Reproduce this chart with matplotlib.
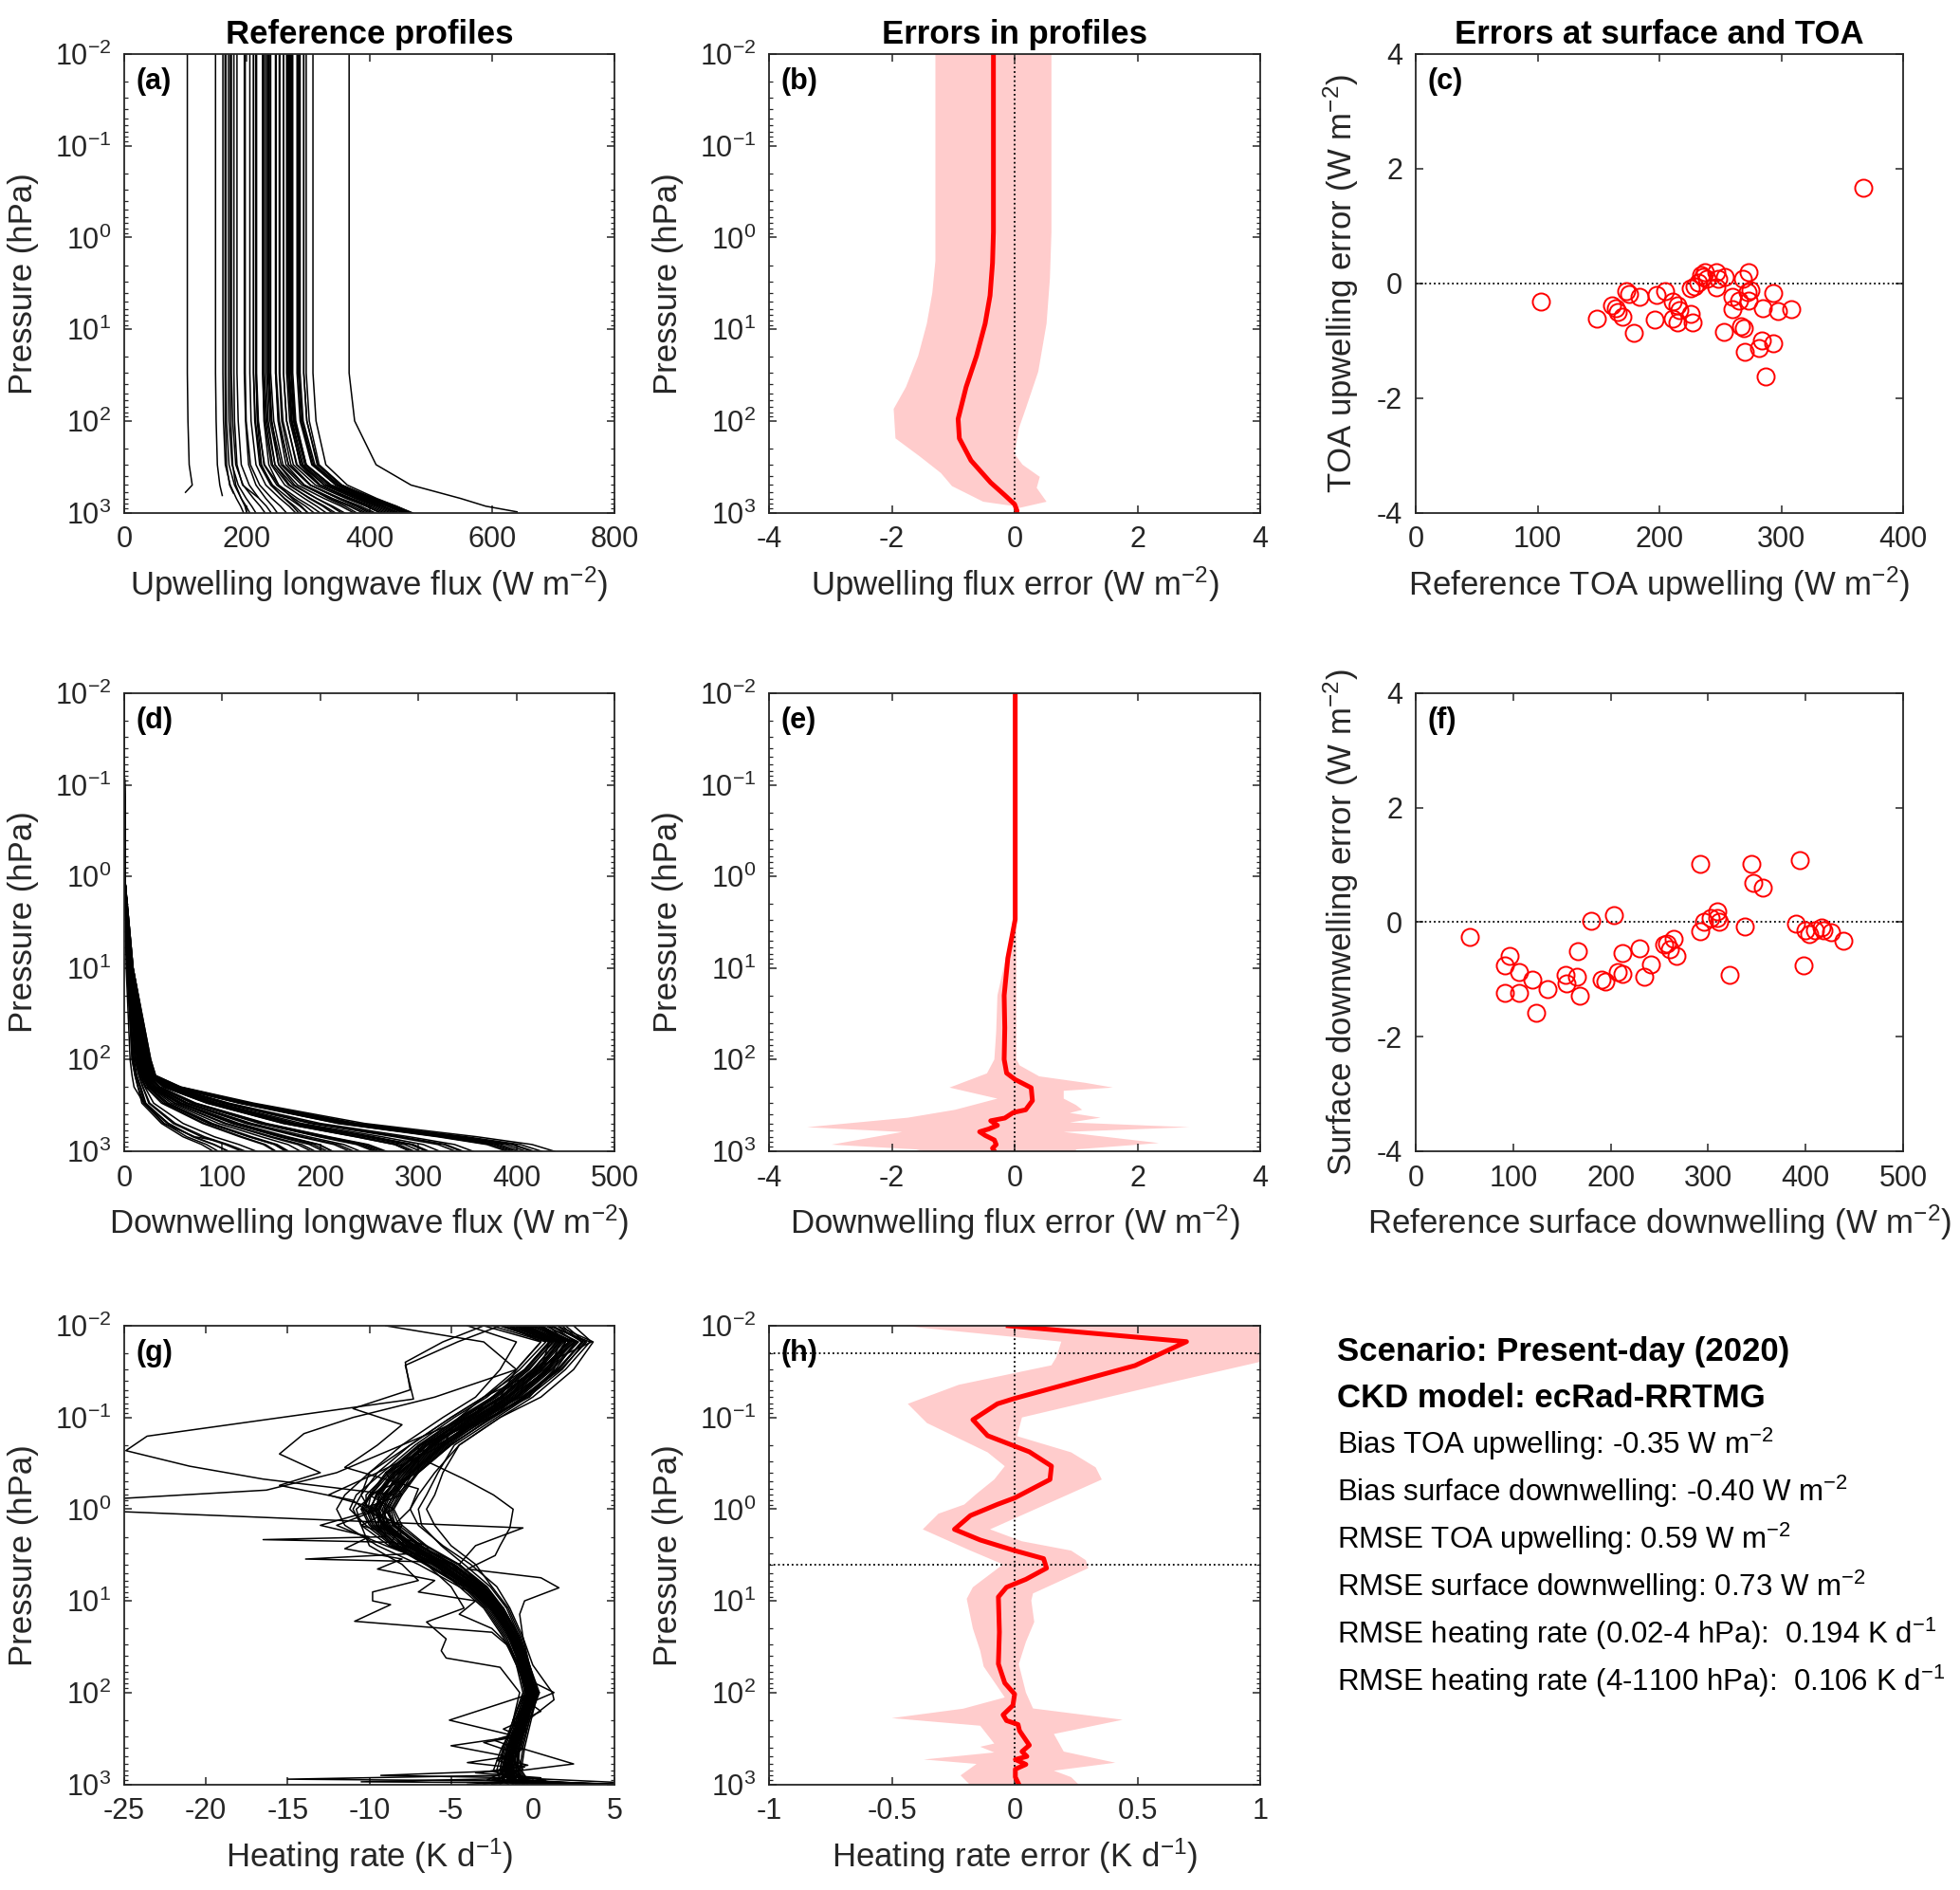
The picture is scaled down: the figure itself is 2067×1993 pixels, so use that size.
import matplotlib
matplotlib.use('Agg')
import matplotlib.pyplot as plt
import numpy as np
from matplotlib.ticker import LogLocator, NullFormatter, FixedLocator

plt.rcParams['font.family'] = ['Liberation Sans', 'DejaVu Sans']
plt.rcParams['mathtext.fontset'] = 'custom'
plt.rcParams['mathtext.rm'] = 'Liberation Sans'
plt.rcParams['mathtext.it'] = 'Liberation Sans:italic'
plt.rcParams['mathtext.bf'] = 'Liberation Sans:bold'
plt.rcParams['axes.unicode_minus'] = False

# ---------------- data: panel (c) TOA errors ----------------
toa_ref = [103, 149, 161, 164.5, 166, 170, 173, 175, 179, 184, 196, 197.5, 205, 211, 211, 215, 216, 215,
           226, 227, 226, 229, 232, 234, 235.5, 237, 239, 247, 248, 247, 254, 253, 260, 260, 265, 267, 269,
           268.5, 273, 272, 273, 275, 270, 282, 284, 285, 287, 293, 293, 297, 308, 367]
toa_err = [-0.31, -0.62, -0.39, -0.44, -0.50, -0.59, -0.14, -0.19, -0.87, -0.24, -0.63, -0.21, -0.14, -0.31,
           -0.61, -0.39, -0.47, -0.68, -0.54, -0.68, -0.09, -0.06, 0.01, 0.15, 0.12, 0.19, 0.08, 0.20, 0.08,
           -0.07, 0.12, -0.84, -0.24, -0.45, -0.30, -0.75, -0.78, 0.08, 0.19, -0.16, -0.30, -0.12, -1.19,
           -1.12, -1.00, -0.43, -1.62, -1.04, -0.17, -0.48, -0.45, 1.67]

# ---------------- data: panel (f) surface errors ----------------
sfc_ref = [55.7, 91, 96, 91, 106.5, 106.5, 120, 124, 135, 154, 155, 165, 166, 168, 180, 191, 195, 203.5,
           207.5, 212.5, 212.5, 230, 234.5, 241, 255, 258, 265, 261, 267.5, 292, 292, 296, 302.5, 309, 309,
           311, 322, 338, 344, 346, 356, 393.5, 390.5, 397.5, 399.5, 404, 410, 416, 418, 426, 439]
sfc_err = [-0.26, -0.76, -0.59, -1.24, -0.88, -1.24, -1.00, -1.59, -1.17, -0.93, -1.07, -0.96, -0.50, -1.28,
           0.03, -1.00, -1.04, 0.12, -0.88, -0.54, -0.91, -0.46, -0.95, -0.74, -0.40, -0.38, -0.30, -0.48,
           -0.59, 1.02, -0.16, 0.00, 0.07, 0.19, 0.08, 0.00, -0.93, -0.08, 1.02, 0.68, 0.61, 1.09, -0.03,
           -0.76, -0.15, -0.21, -0.15, -0.09, -0.15, -0.17, -0.32]

# ---------------- data: panel (a) upwelling profiles ----------------
up_psfc = [600, 650, 1010, 610, 1010, 1010, 1010, 1010, 680, 1010] + [1010] * 41 + [980]
up_100 = [104, 150, 162, 165, 167, 171, 174, 177, 180, 186, 198, 199, 207, 213, 214, 217, 219, 218, 229, 231,
          228, 233, 235, 238, 240, 241, 244, 251, 253, 252, 259, 257, 265, 265, 270, 272, 274, 273, 278, 277,
          279, 280, 276, 287, 289, 290, 292, 298, 298, 302, 313, 376]
up_300 = [106, 152, 165, 167, 171, 176, 177, 182, 184, 191, 203, 206, 215, 221, 223, 224, 228, 229, 240, 242,
          236, 246, 246, 252, 256, 252, 259, 264, 268, 268, 276, 272, 281, 282, 288, 287, 292, 290, 296, 296,
          297, 297, 295, 306, 307, 309, 311, 315, 316, 318, 329, 411]
up_500 = [111, 156, 173, 172, 180, 186, 182, 194, 193, 204, 215, 221, 231, 239, 242, 240, 249, 252, 262, 268,
          252, 275, 270, 283, 290, 278, 294, 294, 303, 304, 312, 304, 318, 320, 326, 320, 331, 327, 335, 336,
          338, 335, 337, 346, 345, 349, 351, 354, 355, 355, 364, 468]
up_700 = [None, None, 183, None, 191, 199, 191, 211, None, 220, 231, 241, 254, 262, 269, 261, 277, 283, 294, 304,
          274, 314, 302, 326, 336, 314, 340, 333, 350, 353, 362, 349, 367, 371, 379, 365, 383, 377, 388, 391,
          395, 386, 395, 401, 397, 404, 406, 405, 409, 404, 412, 549]
up_850 = [None, None, 190, None, 199, 208, 197, 222, None, 232, 242, 255, 269, 278, 287, 275, 296, 304, 314, 327,
          289, 340, 324, 354, 367, 337, 372, 360, 381, 386, 395, 378, 400, 405, 414, 395, 419, 410, 423, 428,
          432, 420, 433, 438, 432, 441, 443, 440, 444, 437, 444, 590]
up_sfc = [100, 160, 195, 178, 205, 215, 200, 230, 218, 240, 250, 265, 280, 290, 300, 285, 310, 320, 330, 345,
          300, 360, 340, 375, 390, 355, 395, 380, 405, 410, 420, 400, 425, 430, 440, 418, 445, 435, 450, 455,
          460, 445, 462, 465, 458, 468, 470, 466, 471, 462, 468, 641]

# ---------------- data: panel (d) downwelling profiles ----------------
dn_psfc = [580, 760] + [1010] * 49
dn_top = 0.0
dn_1hpa = 0.5
dn_10 = [2, 3, 3, 3, 3, 3, 4, 4, 4, 4, 4, 5, 5, 5, 5, 5, 5, 5, 5, 6, 6, 6, 6, 6, 6, 6, 7, 7, 7, 7,
         7, 7, 7, 7, 7, 7, 8, 8, 8, 8, 8, 8, 8, 8, 8, 8, 8, 9, 9, 9, 9]
dn_100 = [6, 8, 9, 8, 10, 9, 11, 11, 12, 13, 13, 14, 14, 14, 15, 15, 16, 16, 16, 17, 17, 18, 18, 18, 19, 19,
          19, 19, 20, 21, 21, 21, 22, 22, 22, 22, 23, 23, 24, 24, 24, 25, 25, 25, 25, 26, 26, 26, 26, 27, 27]
dn_150 = [8, 11, 12, 11, 13, 12, 15, 15, 16, 17, 17, 18, 18, 19, 19, 20, 20, 21, 21, 21, 22, 22, 23, 23, 24,
          24, 25, 24, 25, 26, 26, 26, 27, 27, 27, 27, 28, 28, 29, 29, 29, 30, 30, 30, 30, 31, 31, 31, 31, 32, 32]
dn_200 = [10, 14, 16, 14, 17, 16, 19, 19, 21, 22, 22, 24, 24, 25, 26, 27, 27, 28, 28, 29, 30, 31, 32, 33, 35,
          35, 36, 35, 37, 40, 40, 41, 42, 43, 43, 44, 45, 46, 47, 48, 49, 50, 50, 51, 52, 53, 54, 55, 56, 57, 58]
dn_300 = [20, 20, 21, 18, 22, 21, 25, 26, 30, 38, 40, 44, 42, 45, 48, 51, 52, 55, 56, 57, 59, 62, 64, 65, 69,
          70, 72, 70, 73, 85, 84, 86, 89, 91, 92, 93, 96, 100, 103, 104, 107, 118, 117, 119, 120, 121, 123,
          125, 126, 128, 132]
dn_500 = [45, 40, 41, 38, 45, 44, 50, 52, 60, 80, 82, 88, 86, 90, 96, 102, 104, 110, 112, 114, 117, 124, 127,
          130, 138, 140, 143, 141, 145, 163, 162, 165, 169, 173, 174, 175, 181, 190, 193, 194, 200, 219, 218,
          222, 223, 226, 229, 232, 234, 238, 245]
dn_700 = [None, 72, 64, 60, 71, 70, 79, 82, 92, 118, 120, 128, 127, 130, 140, 148, 151, 158, 161, 165, 167,
          179, 182, 188, 199, 201, 207, 204, 209, 237, 236, 240, 246, 251, 252, 254, 263, 276, 281, 283, 291,
          323, 320, 326, 328, 331, 336, 341, 343, 349, 360]
dn_850 = [None, None, 84, 79, 92, 91, 103, 106, 117, 142, 144, 153, 154, 156, 167, 177, 181, 189, 193, 198,
          199, 214, 218, 224, 237, 240, 246, 243, 249, 276, 276, 280, 286, 292, 293, 295, 305, 320, 326, 328,
          337, 373, 370, 377, 379, 383, 389, 395, 397, 404, 416]

# ---------------- data: panel (b) upwelling flux error ----------------
upe_p = [0.01, 0.87, 1.9, 4.3, 8.7, 19.5, 42.7, 95, 155, 270, 470, 645, 810, 955, 1000]
upe_mean = [-0.345, -0.345, -0.36, -0.40, -0.48, -0.62, -0.79, -0.92, -0.90, -0.71, -0.39, -0.16, 0.0, 0.04, 0.03]
upe_lo_p = [0.01, 1.8, 4.0, 8.7, 19.5, 42.7, 74, 155, 245, 370, 513, 760, 850]
upe_lo = [-1.29, -1.29, -1.34, -1.43, -1.57, -1.77, -1.97, -1.94, -1.54, -1.20, -1.02, -0.51, 0.0]
upe_hi_p = [0.01, 0.87, 2.8, 8.7, 29, 74, 120, 229, 300, 407, 537, 760, 890]
upe_hi = [0.60, 0.60, 0.575, 0.52, 0.385, 0.18, 0.07, 0.0, 0.13, 0.41, 0.36, 0.52, 0.07]

# ---------------- data: panel (e) downwelling flux error ----------------
dne_p = [0.01, 0.83, 2.95, 4.8, 7.8, 20, 45, 100, 141, 166, 204, 282, 355, 380, 437, 468, 525, 575, 617,
         676, 759, 851, 933, 1000]
dne_mean = [0.01, 0.01, 0.01, -0.05, -0.11, -0.17, -0.16, -0.17, -0.13, 0.01, 0.27, 0.29, 0.18, -0.02, -0.16,
            -0.39, -0.28, -0.42, -0.57, -0.48, -0.33, -0.30, -0.36, -0.33]
dne_lo_p = [0.01, 3, 5, 20, 50, 100, 142, 203, 268, 355, 433, 550, 620, 853, 962, 1000]
dne_lo = [-0.03, -0.03, -0.08, -0.28, -0.30, -0.33, -0.45, -1.06, -0.28, -0.97, -1.74, -3.38, -1.83, -2.98,
          -1.60, -1.50]
dne_hi_p = [0.01, 100, 116, 153, 180, 203, 220, 268, 315, 355, 384, 433, 488, 550, 620, 819, 962, 1000]
dne_hi = [0.03, 0.03, 0.08, 0.40, 1.15, 1.60, 0.80, 0.80, 1.00, 1.10, 0.90, 1.40, 0.90, 2.85, 0.80, 2.35,
          1.00, 1.00]

# ---------------- data: panel (h) heating-rate error ----------------
hre_p = [0.01, 0.0149, 0.0272, 0.062, 0.071, 0.106, 0.158, 0.237, 0.339, 0.475, 0.755, 0.887, 1.175, 1.66,
         2.17, 2.83, 3.46, 4.4, 5.82, 7.1, 9.06, 21.9, 48.7, 78.7, 104, 138, 175, 202, 223, 261, 375, 440,
         497, 537, 607, 684, 836, 1000]
hre_mean = [-0.026, 0.70, 0.49, 0.0, -0.07, -0.17, -0.11, 0.06, 0.15, 0.144, 0.0, -0.07, -0.18, -0.245,
            -0.14, 0.0, 0.118, 0.13, 0.046, -0.033, -0.066, -0.062, -0.066, -0.04, 0.0, -0.007, -0.047,
            -0.033, 0.014, 0.02, 0.06, 0.03, 0.05, 0.003, 0.046, 0.003, 0.003, 0.017]
hre_lo_p = [0.01, 0.0149, 0.022, 0.027, 0.044, 0.071, 0.115, 0.24, 0.34, 0.475, 0.68, 0.89, 1.12, 1.66, 2.8,
            4.0, 7.1, 9.5, 20, 35, 52, 86, 113, 150, 190, 230, 360, 390, 450, 537, 600, 800, 1000]
hre_lo = [-0.46, 0.19, 0.17, 0.15, -0.227, -0.435, -0.357, -0.11, -0.04, -0.083, -0.155, -0.205, -0.31,
          -0.374, -0.184, -0.047, -0.17, -0.195, -0.17, -0.14, -0.126, -0.07, -0.04, -0.21, -0.5, -0.14,
          -0.083, -0.14, -0.083, -0.37, -0.155, -0.22, -0.184]
hre_hi_p = [0.01, 0.0149, 0.02, 0.043, 0.10, 0.16, 0.24, 0.35, 0.475, 1.66, 2.24, 2.83, 3.6, 4.4, 8.3, 9.9,
            17, 28, 49, 100, 149, 198, 283, 440, 582, 711, 836, 1000]
hre_hi = [1.05, 1.3, 1.15, 0.61, 0.03, 0.01, 0.23, 0.33, 0.355, -0.1, 0.03, 0.23, 0.29, 0.3, 0.075, 0.068,
          0.08, 0.046, 0.017, 0.046, 0.075, 0.44, 0.16, 0.2, 0.41, 0.16, 0.23, 0.26]

# ---------------- data: panel (g) heating-rate profiles ----------------
hr_p = [0.01, 0.015, 0.03, 0.06, 0.1, 0.2, 0.4, 0.7, 1, 1.5, 2.5, 4, 7, 12, 25, 50, 100, 200, 400, 700, 900, 1000]
hr_01 = [0.5, 2.5, 1.0, -1.0, -3.0, -5.5, -7.5, -8.5, -9.0, -8.5, -7.0, -5.0, -3.2, -2.0, -1.0, -0.4, 0.0, -0.5, -1.0, -1.2, -1.0, 1.0]
hr_02 = [-1.0, 1.5, 0.0, -2.0, -4.0, -6.5, -8.5, -9.5, -10.0, -9.5, -8.0, -6.0, -3.8, -2.5, -1.4, -0.7, -0.3, -0.8, -1.4, -1.6, -1.5, -0.5]
hr_03 = [1.5, 3.0, 1.5, -0.5, -2.5, -5.0, -7.0, -8.0, -8.5, -8.0, -6.5, -4.5, -2.8, -1.8, -0.9, -0.3, 0.2, -0.3, -0.8, -1.0, -0.6, 2.0]
hr_04 = [-2.0, 1.0, -0.5, -2.5, -4.5, -7.0, -9.0, -10.0, -10.5, -10.0, -8.5, -6.5, -4.2, -2.8, -1.6, -0.9, -0.5, -1.0, -1.6, -1.9, -1.8, -1.0]
hr_05 = [0.0, 2.0, 0.8, -1.2, -3.2, -5.8, -7.8, -9.2, -9.6, -9.2, -7.6, -5.4, -3.4, -2.2, -1.1, -0.5, -0.1, -0.6, -1.2, -1.3, -1.1, 0.5]
hr_06 = [1.0, 3.5, 2.0, 0.0, -2.0, -4.5, -5.5, -6.0, -6.5, -6.0, -5.0, -3.5, -2.5, -1.5, -0.7, -0.2, 0.4, -0.2, -0.6, -0.8, -0.4, 3.0]
hr_07 = [-0.5, 1.8, 0.3, -1.8, -3.8, -6.2, -8.2, -9.8, -10.8, -10.5, -8.8, -6.2, -4.0, -2.6, -1.3, -0.6, -0.2, -0.7, -1.3, -1.5, -1.6, -2.0]
hr_08 = [-3.0, 0.5, -1.0, -3.0, -5.0, -7.5, -10.0, -11.5, -12.0, -11.5, -9.5, -7.0, -4.5, -3.0, -1.8, -1.0, -0.6, -1.2, -1.8, -2.2, -2.0, -1.5]
hr_09 = [0.8, 2.8, 1.2, -0.8, -2.8, -5.2, -7.2, -8.8, -9.2, -8.8, -7.2, -5.2, -3.3, -2.1, -1.0, -0.4, 0.1, -0.4, -1.0, -1.1, -0.8, 1.5]
hr_10 = [-1.5, 1.2, -0.2, -2.2, -4.2, -6.8, -8.8, -10.2, -10.2, -9.8, -8.2, -5.8, -3.7, -2.4, -1.3, -0.7, -0.3, -0.9, -1.5, -1.7, -1.4, 0.0]
hr_11 = [2.0, 3.2, 1.8, -0.3, -2.2, -4.8, -5.8, -6.5, -7.0, -6.8, -5.6, -4.2, -2.6, -1.6, -0.8, -0.2, 0.3, -0.1, -0.5, -0.7, -0.3, 4.0]
hr_12 = [-0.8, 1.6, 0.2, -1.6, -3.6, -6.0, -8.0, -9.0, -9.4, -9.0, -7.4, -5.6, -3.6, -2.3, -1.2, -0.6, -0.2, -0.6, -1.1, -1.3, -1.2, -0.5]
hr_13 = [0.3, 2.2, 0.6, -1.4, -3.4, -5.6, -7.6, -8.6, -9.8, -9.6, -8.2, -6.0, -3.9, -2.5, -1.3, -0.6, -0.1, -0.5, -1.3, -1.5, -1.3, 0.8]
hr_14 = [-2.5, 0.8, -0.8, -2.8, -4.8, -7.2, -9.2, -10.8, -11.2, -10.2, -8.6, -6.6, -4.3, -2.9, -1.7, -0.9, -0.4, -1.1, -1.7, -2.0, -1.7, -1.2]
hr_15 = [1.2, 2.6, 1.4, -0.6, -2.6, -5.4, -7.4, -8.4, -8.8, -8.6, -7.0, -4.8, -3.0, -1.9, -0.9, -0.3, 0.1, -0.3, -0.9, -1.0, -0.7, 2.5]
hr_16 = [-1.2, 1.4, 0.1, -1.9, -3.9, -6.4, -8.4, -9.4, -9.6, -9.4, -7.8, -5.8, -3.8, -2.5, -1.4, -0.8, -0.4, -0.8, -1.4, -1.6, -1.4, -0.3]
hr_17 = [0.2, 2.4, 0.9, -1.1, -3.1, -5.7, -7.7, -8.7, -9.1, -8.9, -7.3, -5.3, -3.4, -2.2, -1.1, -0.5, 0.0, -0.5, -1.1, -1.4, -1.0, 1.2]
hr_18 = [-0.3, 1.9, 0.4, -1.5, -3.5, -6.1, -8.1, -9.1, -9.3, -8.7, -7.7, -5.7, -3.6, -2.4, -1.2, -0.6, -0.2, -0.7, -1.2, -1.5, -1.3, 0.2]
hr_19 = [1.8, 3.0, 1.6, -0.4, -2.4, -5.1, -7.1, -8.1, -8.6, -8.2, -6.6, -4.6, -2.9, -1.8, -0.8, -0.3, 0.2, -0.3, -0.8, -0.9, -0.5, 3.5]
hr_20 = [-1.8, 1.1, -0.4, -2.4, -4.4, -6.9, -8.9, -9.9, -10.4, -9.9, -8.4, -6.4, -4.1, -2.7, -1.5, -0.8, -0.4, -0.9, -1.6, -1.8, -1.9, -0.8]
hr_21 = [0.0, 2.2, 0.5, -3.0, -4.5, -5.5, -9.0, -8.0, -10.5, -8.0, -8.8, -4.8, -3.0, -2.6, -1.0, -0.9, 0.4, -0.4, -1.6, -0.8, -2.2, 1.5]
hr_22 = [-1.0, 1.7, 1.0, -1.0, -2.5, -7.0, -7.0, -10.0, -8.5, -10.5, -6.5, -6.0, -4.5, -1.8, -1.5, -0.3, -0.5, -1.2, -0.6, -2.0, -0.9, -1.0]
hr_23 = [2.5, 3.6, 0.0, -2.0, -3.0, -6.5, -8.3, -9.0, -9.9, -8.2, -7.9, -5.0, -3.1, -2.2, -1.3, -0.5, 0.0, -0.8, -1.0, -1.2, -1.5, 5.0]
hr_24 = [-2.0, 1.0, 0.5, -2.5, -3.8, -6.0, -8.6, -9.6, -9.0, -9.6, -7.1, -5.9, -3.5, -2.1, -1.1, -0.7, -0.2, -0.5, -1.3, -1.7, -1.0, -2.5]
hr_25 = [0.6, 2.0, 1.3, -0.2, -2.7, -5.9, -7.9, -8.8, -9.4, -9.3, -7.8, -5.5, -3.6, -2.4, -1.2, -0.6, 0.3, -0.2, -0.7, -1.5, -1.8, 3.5]
hr_26 = [-0.2, 2.6, 0.7, -1.7, -4.1, -6.6, -8.7, -9.9, -10.1, -9.7, -8.3, -6.1, -3.9, -2.6, -1.4, -0.8, -0.3, -1.0, -1.9, -2.4, -1.2, 0.5]
hr_27 = [1.1, 3.3, 1.7, -0.7, -3.3, -5.3, -7.3, -8.2, -8.7, -8.4, -6.8, -4.9, -3.1, -2.0, -1.0, -0.4, 0.1, -0.5, -1.1, -0.6, -2.5, 5.0]
hr_28 = [-1.4, 1.3, -0.3, -2.3, -4.3, -6.7, -8.4, -9.3, -9.7, -9.2, -7.9, -5.6, -3.5, -2.3, -1.2, -0.6, -0.1, -0.6, -1.2, -1.4, -0.3, -4.0]
hr_29 = [0.4, 2.3, 0.9, -1.3, -3.3, -6.2, -8.2, -9.6, -9.9, -9.1, -7.4, -5.2, -3.3, -2.1, -1.1, -0.5, 0.0, -0.4, -0.9, -1.8, -1.1, 2.5]
hr_30 = [-0.6, 1.7, 0.2, -1.9, -3.7, -6.3, -7.7, -8.9, -9.5, -8.9, -7.5, -5.5, -3.7, -2.4, -1.3, -0.7, -0.2, -0.7, -1.4, -1.6, -2.8, 4.5]

# irregular heating-rate profiles with their own levels
hr_o1_p = [0.01, 0.015, 0.027, 0.063, 0.16, 0.23, 0.34, 0.47, 0.7, 1, 1.5, 2.5, 4, 7, 12, 25, 50, 100, 200, 400, 700, 900, 1000]
hr_o1 = [-2.0, -4.6, -7.8, -7.3, -23.6, -24.9, -21.0, -16.5, -8.5, -9.0, -9.2, -7.2, -5.2, -3.3, -2.1, -1.0, -0.4, 0.0, -0.6, -1.2, -1.3, -1.0, 0.5]
hr_o2_p = [0.01, 0.015, 0.03, 0.06, 0.1, 0.2, 0.4, 0.62, 0.78, 1.05, 1.6, 2.5, 4, 7, 12, 25, 50, 100, 200, 400, 700, 900, 1000]
hr_o2 = [-9.0, -3.0, -1.0, -2.0, -4.0, -8.0, -12.0, -16.3, -26.0, -26.0, -0.6, -3.5, -4.5, -3.0, -1.8, -0.8, -0.3, 0.2, -0.5, -1.0, -1.2, -0.8, 2.0]
hr_o3_p = [0.01, 0.015, 0.03, 0.06, 0.1, 0.2, 0.3, 0.47, 0.7, 1.0, 1.6, 2.5, 3.2, 4.5, 5.6, 7.2, 10, 14, 25, 50, 100, 200, 400, 700, 900, 1000]
hr_o3 = [1.0, 2.0, 1.0, -1.5, -3.0, -5.5, -6.5, -4.2, -2.4, -1.2, -1.4, -2.0, -2.3, -4.0, 0.5, 1.6, -0.5, -0.8, -0.6, -0.2, 0.3, -0.4, -0.9, -1.0, -0.5, 1.0]
hr_o4_p = [0.01, 0.015, 0.03, 0.06, 0.1, 0.2, 0.4, 0.7, 1, 1.5, 2.0, 2.15, 2.3, 3.0, 3.5, 3.8, 5, 7, 12, 25, 50, 100, 200, 400, 700, 900, 1000]
hr_o4 = [0.5, 1.5, 0.0, -2.0, -4.0, -6.5, -8.5, -9.5, -10.0, -9.5, -9.0, -16.5, -8.5, -6.5, -13.9, -5.0, -4.5, -3.5, -2.2, -1.1, -0.5, -0.1, -0.6, -1.2, -1.4, -1.0, 1.0]
hr_o5_p = [0.01, 0.015, 0.03, 0.06, 0.1, 0.2, 0.4, 0.7, 1, 1.5, 2.5, 4, 6, 8, 10, 11, 16.7, 22, 30, 50, 100, 200, 400, 700, 900, 1000]
hr_o5 = [-1.0, 1.0, -0.5, -3.0, -5.0, -7.5, -9.5, -10.5, -11.0, -10.5, -10.0, -8.0, -7.0, -9.8, -9.8, -8.7, -10.9, -2.5, -1.6, -0.8, -0.3, -0.9, -1.5, -1.8, -1.5, -3.0]
hr_o6_p = [0.01, 0.015, 0.03, 0.06, 0.1, 0.2, 0.4, 0.7, 1, 1.5, 2.5, 4, 7, 12, 17, 26, 35, 42, 53, 100, 200, 400, 700, 900, 1000]
hr_o6 = [-4.0, -1.0, -2.0, -3.5, -5.5, -8.0, -10.0, -10.5, -10.0, -9.0, -8.0, -6.5, -5.0, -4.2, -6.5, -5.3, -5.6, -5.3, -2.0, -0.8, -1.2, -1.8, -2.0, -1.8, -0.5]
hr_o7_p = [0.01, 0.015, 0.03, 0.06, 0.1, 0.2, 0.4, 0.7, 1, 1.5, 2.5, 4, 7, 12, 25, 50, 100, 200, 300, 380, 500, 580, 650, 800, 880, 920, 1000]
hr_o7 = [0.0, 2.2, 0.8, -1.0, -3.0, -5.5, -7.5, -8.5, -9.0, -8.5, -7.0, -5.0, -3.0, -2.0, -1.0, -0.3, 0.1, -5.1, -1.0, -5.0, -1.5, -4.0, -1.5, -2.0, -15.0, -1.5, 5.0]
hr_o8_p = [0.01, 0.015, 0.03, 0.06, 0.1, 0.2, 0.4, 0.7, 1, 1.5, 2.5, 4, 7, 12, 25, 50, 100, 120, 200, 400, 600, 700, 800, 850, 960, 1000]
hr_o8 = [1.5, 3.7, 2.5, 0.5, -2.0, -4.5, -6.0, -7.0, -7.5, -7.0, -5.5, -3.8, -2.2, -1.4, -0.6, 0.0, 1.2, 1.3, -0.3, -0.8, 2.5, -0.5, -9.3, -1.0, 5.5, 5.5]
hr_o9_p = [0.01, 0.015, 0.03, 0.06, 0.1, 0.15, 0.25, 0.4, 0.55, 0.8, 1.1, 1.5, 2.5, 4, 7, 12, 25, 50, 100, 200, 400, 700, 1000]
hr_o9 = [-1.5, 0.5, -1.0, -6.0, -11.0, -14.0, -15.5, -13.0, -15.5, -11.0, -10.0, -12.0, -9.0, -6.0, -4.0, -2.6, -1.4, -0.7, -0.2, -0.8, -1.5, -1.7, 0.0]
hr_o10_p = [0.01, 0.015, 0.025, 0.05, 0.08, 0.12, 0.2, 0.35, 0.6, 1, 1.5, 2.5, 4, 7, 12, 25, 50, 100, 200, 400, 700, 900, 1000]
hr_o10 = [-3.0, -5.5, -7.8, -7.5, -11.0, -8.0, -9.5, -11.5, -7.0, -7.5, -8.5, -7.0, -4.5, -3.0, -2.0, -1.1, -0.5, 0.3, -0.6, -1.4, -1.5, -1.0, -1.0]
hr_o11_p = [0.01, 0.015, 0.03, 0.06, 0.1, 0.2, 0.4, 0.7, 1, 1.5, 2.5, 4, 7, 12, 25, 50, 80, 100, 130, 160, 200, 250, 300, 350, 450, 550, 650, 750, 850, 930, 1000]
hr_o11 = [0.8, 2.7, 1.1, -0.9, -2.9, -5.4, -7.4, -8.9, -9.5, -9.0, -7.3, -5.2, -3.3, -2.1, -1.1, -0.4, 0.2, 1.3, -0.2, 0.5, -0.6, -1.8, -0.8, -3.0, -1.2, -2.2, -0.5, -3.5, 0.5, -2.0, 4.0]
hr_o12_p = [0.01, 0.015, 0.03, 0.06, 0.1, 0.2, 0.4, 0.7, 1, 1.5, 2.5, 4, 7, 12, 25, 50, 100, 150, 200, 260, 330, 420, 520, 620, 720, 820, 900, 960, 1000]
hr_o12 = [-0.7, 1.6, 0.4, -1.6, -3.6, -6.1, -8.1, -9.1, -9.6, -9.1, -7.6, -5.6, -3.6, -2.3, -1.2, -0.6, -0.4, -0.1, -1.2, -0.4, -2.4, -0.7, -2.0, -0.3, -2.6, -1.0, 0.8, -3.0, 5.5]
hr_o13_p = [0.01, 0.015, 0.03, 0.06, 0.1, 0.2, 0.4, 0.7, 1, 1.5, 2.5, 4, 7, 12, 25, 50, 100, 200, 400, 600, 750, 870, 940, 970, 1000]
hr_o13 = [1.2, 3.1, 1.5, -0.5, -2.5, -5.0, -7.0, -8.3, -8.9, -8.4, -6.9, -4.9, -3.1, -1.9, -0.9, -0.3, 0.1, -0.5, -1.1, -1.3, -1.1, -2.0, -10.5, 3.0, 5.5]
hr_o14_p = [0.01, 0.015, 0.03, 0.06, 0.1, 0.2, 0.4, 0.7, 1, 1.5, 2.0, 2.7, 3.5, 4.5, 6, 8, 10, 14, 20, 30, 50, 100, 200, 400, 700, 900, 1000]
hr_o14 = [-0.5, 2.2, 0.5, -1.5, -3.5, -6.0, -9.5, -12.5, -9.5, -13.0, -10.0, -11.5, -8.0, -9.5, -6.0, -7.0, -3.5, -4.5, -2.5, -1.5, -1.0, -0.3, -0.7, -1.3, -1.5, -1.2, 1.0]

# ---------------- text ----------------
titles = ['Reference profiles', 'Errors in profiles', 'Errors at surface and TOA']
summary_bold = ['Scenario: Present-day (2020)', 'CKD model: ecRad-RRTMG']
summary = ['Bias TOA upwelling: -0.35 W m$^{-2}$',
           'Bias surface downwelling: -0.40 W m$^{-2}$',
           'RMSE TOA upwelling: 0.59 W m$^{-2}$',
           'RMSE surface downwelling: 0.73 W m$^{-2}$',
           'RMSE heating rate (0.02-4 hPa):  0.194 K d$^{-1}$',
           'RMSE heating rate (4-1100 hPa):  0.106 K d$^{-1}$']

# ================= drawing =================
AXC = '#262626'
PINK = '#ffcccc'
W, H = 2067, 1993
fig = plt.figure(figsize=(W / 100, H / 100), dpi=100)

cols = [(131, 648), (811, 1329), (1493, 2007)]
rows = [(57, 540.6), (731, 1213.7), (1398, 1881.5)]


def make_ax(r, c):
    l, rr = cols[c]
    t, b = rows[r]
    ax = fig.add_axes([l / W, 1 - b / H, (rr - l) / W, (b - t) / H])
    for s in ax.spines.values():
        s.set_color(AXC)
        s.set_linewidth(1.3)
    ax.tick_params(which='both', direction='in', top=True, right=True, color=AXC, labelcolor=AXC)
    ax.tick_params(which='major', length=5.5, width=1.1, labelsize=22, pad=10)
    ax.tick_params(which='minor', length=3, width=0.9)
    return ax


def log_p(ax):
    ax.set_yscale('log')
    ax.set_ylim(1000, 0.01)
    ax.yaxis.set_major_locator(FixedLocator([1e-2, 1e-1, 1, 10, 100, 1000]))
    ax.set_yticklabels([r'$10^{-2}$', r'$10^{-1}$', r'$10^{0}$', r'$10^{1}$', r'$10^{2}$', r'$10^{3}$'])
    ax.yaxis.set_minor_locator(LogLocator(base=10, subs=np.arange(2, 10), numticks=100))
    ax.yaxis.set_minor_formatter(NullFormatter())
    ax.set_ylabel('Pressure (hPa)', fontsize=25, color=AXC, labelpad=12)


def letter(ax, s):
    ax.text(0.025, 0.94, s, transform=ax.transAxes, fontsize=22, fontweight='bold', va='center', ha='left')


def xlab(ax, s):
    ax.set_xlabel(s, fontsize=25, color=AXC, labelpad=8)


def build(levels, values, psfc, vsfc):
    p, v = [], []
    for lev, val in zip(levels, values):
        if val is None or lev >= psfc:
            continue
        p.append(lev)
        v.append(val)
    p.append(psfc)
    v.append(vsfc)
    return v, p


# (a)
ax = make_ax(0, 0)
for i in range(len(toa_ref)):
    vals = [toa_ref[i], toa_ref[i], up_100[i], up_300[i], up_500[i], up_700[i], up_850[i]]
    x, p = build([0.01, 30, 100, 300, 500, 700, 850], vals, up_psfc[i], up_sfc[i])
    ax.plot(x, p, color='k', lw=1.1)
log_p(ax)
ax.set_xlim(0, 800)
ax.set_xticks([0, 200, 400, 600, 800])
xlab(ax, 'Upwelling longwave flux (W m$^{-2}$)')
ax.set_title(titles[0], fontsize=25, fontweight='bold', pad=8)
letter(ax, '(a)')

# (b)
ax = make_ax(0, 1)
ax.fill(list(upe_lo) + list(upe_hi[::-1]), list(upe_lo_p) + list(upe_hi_p[::-1]), color=PINK, lw=0)
ax.axvline(0, color='k', ls=':', lw=1.3)
ax.plot(upe_mean, upe_p, color='r', lw=3.6)
log_p(ax)
ax.set_xlim(-4, 4)
ax.set_xticks([-4, -2, 0, 2, 4])
xlab(ax, 'Upwelling flux error (W m$^{-2}$)')
ax.set_title(titles[1], fontsize=25, fontweight='bold', pad=8)
letter(ax, '(b)')

# (c)
ax = make_ax(0, 2)
ax.axhline(0, color='k', ls=':', lw=1.3)
ax.plot(toa_ref, toa_err, 'o', mfc='none', mec='r', ms=13, mew=1.4)
ax.set_xlim(0, 400)
ax.set_ylim(-4, 4)
ax.set_xticks([0, 100, 200, 300, 400])
ax.set_yticks([-4, -2, 0, 2, 4])
xlab(ax, 'Reference TOA upwelling (W m$^{-2}$)')
ax.set_ylabel('TOA upwelling error (W m$^{-2}$)', fontsize=25, color=AXC, labelpad=12)
ax.set_title(titles[2], fontsize=25, fontweight='bold', pad=8)
letter(ax, '(c)')

# (d)
ax = make_ax(1, 0)
for i in range(len(sfc_ref)):
    vals = [dn_top, dn_1hpa, dn_10[i], dn_100[i], dn_150[i], dn_200[i], dn_300[i], dn_500[i], dn_700[i], dn_850[i]]
    x, p = build([0.01, 1, 10, 100, 150, 200, 300, 500, 700, 850], vals, dn_psfc[i], sfc_ref[i])
    ax.plot(x, p, color='k', lw=1.1)
log_p(ax)
ax.set_xlim(0, 500)
ax.set_xticks([0, 100, 200, 300, 400, 500])
xlab(ax, 'Downwelling longwave flux (W m$^{-2}$)')
letter(ax, '(d)')

# (e)
ax = make_ax(1, 1)
ax.fill(list(dne_lo) + list(dne_hi[::-1]), list(dne_lo_p) + list(dne_hi_p[::-1]), color=PINK, lw=0)
ax.axvline(0, color='k', ls=':', lw=1.3)
ax.plot(dne_mean, dne_p, color='r', lw=3.6)
log_p(ax)
ax.set_xlim(-4, 4)
ax.set_xticks([-4, -2, 0, 2, 4])
xlab(ax, 'Downwelling flux error (W m$^{-2}$)')
letter(ax, '(e)')

# (f)
ax = make_ax(1, 2)
ax.axhline(0, color='k', ls=':', lw=1.3)
ax.plot(sfc_ref, sfc_err, 'o', mfc='none', mec='r', ms=13, mew=1.4)
ax.set_xlim(0, 500)
ax.set_ylim(-4, 4)
ax.set_xticks([0, 100, 200, 300, 400, 500])
ax.set_yticks([-4, -2, 0, 2, 4])
xlab(ax, 'Reference surface downwelling (W m$^{-2}$)')
ax.set_ylabel('Surface downwelling error (W m$^{-2}$)', fontsize=25, color=AXC, labelpad=12)
letter(ax, '(f)')

# (g)
ax = make_ax(2, 0)
core = [hr_01, hr_02, hr_03, hr_04, hr_05, hr_06, hr_07, hr_08, hr_09, hr_10, hr_11, hr_12, hr_13, hr_14,
        hr_15, hr_16, hr_17, hr_18, hr_19, hr_20, hr_21, hr_22, hr_23, hr_24, hr_25, hr_26, hr_27, hr_28,
        hr_29, hr_30]
for prof in core:
    ax.plot(prof, hr_p, color='k', lw=1.1)
irregular = [(hr_o1_p, hr_o1), (hr_o2_p, hr_o2), (hr_o3_p, hr_o3), (hr_o4_p, hr_o4), (hr_o5_p, hr_o5),
             (hr_o6_p, hr_o6), (hr_o7_p, hr_o7), (hr_o8_p, hr_o8), (hr_o9_p, hr_o9), (hr_o10_p, hr_o10),
             (hr_o11_p, hr_o11), (hr_o12_p, hr_o12), (hr_o13_p, hr_o13), (hr_o14_p, hr_o14)]
for pp, vv in irregular:
    ax.plot(vv, pp, color='k', lw=1.1)
log_p(ax)
ax.set_xlim(-25, 5)
ax.set_xticks([-25, -20, -15, -10, -5, 0, 5])
xlab(ax, 'Heating rate (K d$^{-1}$)')
letter(ax, '(g)')

# (h)
ax = make_ax(2, 1)
ax.fill(list(hre_lo) + list(hre_hi[::-1]), list(hre_lo_p) + list(hre_hi_p[::-1]), color=PINK, lw=0)
ax.axvline(0, color='k', ls=':', lw=1.3)
ax.axhline(0.02, color='k', ls=':', lw=1.3)
ax.axhline(4, color='k', ls=':', lw=1.3)
ax.plot(hre_mean, hre_p, color='r', lw=3.6)
log_p(ax)
ax.set_xlim(-1, 1)
ax.set_xticks([-1, -0.5, 0, 0.5, 1])
ax.set_xticklabels(['-1', '-0.5', '0', '0.5', '1'])
xlab(ax, 'Heating rate error (K d$^{-1}$)')
letter(ax, '(h)')

# summary text
x0 = 1410 / W
y = 1425
for s in summary_bold:
    fig.text(x0, 1 - y / H, s, fontsize=25, fontweight='bold', va='center', ha='left')
    y += 49
for s in summary:
    fig.text(x0, 1 - y / H, s, fontsize=22.5, va='center', ha='left')
    y += 50

fig.savefig('out.png', dpi=100)
